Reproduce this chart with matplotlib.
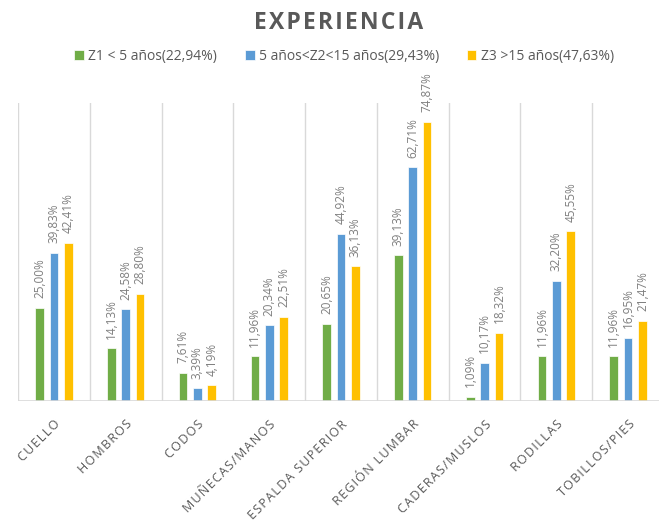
import numpy as np
import matplotlib.pyplot as plt

# datos
categorias = ['CUELLO', 'HOMBROS', 'CODOS', 'MUÑECAS/MANOS', 'ESPALDA SUPERIOR',
              'REGIÓN LUMBAR', 'CADERAS/MUSLOS', 'RODILLAS', 'TOBILLOS/PIES']
z1 = [25.00, 14.13, 7.61, 11.96, 20.65, 39.13, 1.09, 11.96, 11.96]
z2 = [39.83, 24.58, 3.39, 20.34, 44.92, 62.71, 10.17, 32.20, 16.95]
z3 = [42.41, 28.80, 4.19, 22.51, 36.13, 74.87, 18.32, 45.55, 21.47]
series = ['Z1 < 5 años(22,94%)', '5 años<Z2<15 años(29,43%)', 'Z3 >15 años(47,63%)']
colores = ['#70AD47', '#5B9BD5', '#FFC000']

plt.rcParams['font.family'] = ['Open Sans', 'DejaVu Sans']
gris = '#595959'

def espaciar(s, sep='\u200a'):
    # separacion entre letras como en el original
    return sep.join(s)

fig = plt.figure(figsize=(6.59, 5.24), dpi=100)
ax = fig.add_axes([18/659, 1 - 401/524, 646/659, 298/524])

x = np.arange(len(categorias))
ancho = 0.12
paso = 0.2
for i, (vals, nombre, c) in enumerate(zip([z1, z2, z3], series, colores)):
    pos = x + (i - 1) * paso
    ax.bar(pos, vals, width=ancho, color=c, edgecolor='white', linewidth=0.5,
           label=nombre, zorder=3)
    for p, v in zip(pos, vals):
        ax.annotate(('%.2f%%' % v).replace('.', ','), (p, v), xytext=(0, 7),
                    textcoords='offset points', rotation=90, ha='center',
                    va='bottom', fontsize=8.5, color='#7f7f7f')

ax.set_xlim(-0.5, len(categorias) - 0.5)
ax.set_ylim(0, 80)
for b in np.arange(-0.5, len(categorias), 1.0):
    ax.axvline(b, color='#d9d9d9', linewidth=1, zorder=1)
ax.axhline(0, color='#d9d9d9', linewidth=1.2, zorder=4)
for s in ax.spines.values():
    s.set_visible(False)
ax.set_yticks([])
ax.set_xticks(x)
ax.set_xticklabels([espaciar(c) for c in categorias], rotation=45, ha='right',
                   rotation_mode='anchor', fontsize=9, color=gris)
ax.tick_params(axis='x', length=0, pad=12)

fig.text(0.513, 0.957, espaciar('EXPERIENCIA'), ha='center', va='center',
         fontsize=16.5, fontweight='bold', color=gris)
fig.legend(loc='center', bbox_to_anchor=(0.522, 0.893), ncol=3, frameon=False,
           fontsize=10, handlelength=0.7, handleheight=0.7, handletextpad=0.3,
           columnspacing=2.0, labelcolor=gris)

fig.savefig('out.png', dpi=100)
